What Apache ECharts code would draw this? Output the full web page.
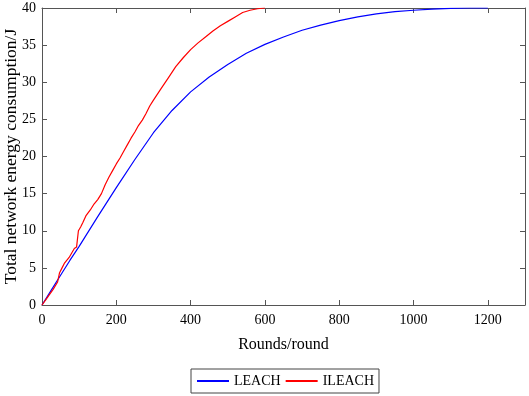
<!DOCTYPE html>
<html>
<head>
<meta charset="utf-8">
<script src="https://cdn.jsdelivr.net/npm/echarts@6/dist/echarts.min.js"></script>
<style>
  html, body { margin: 0; padding: 0; background: #fff; }
  #chart { width: 529px; height: 396px; }
</style>
</head>
<body>
<div id="chart"></div>
<script>
// rounds / energy
const leachRounds = [0, 25, 50, 75, 100, 150, 200, 250, 300, 350, 400, 450, 500, 550, 600, 650, 700, 750, 800, 850, 900, 950, 1000, 1050, 1100, 1150, 1200]
const leachEnergy = [0, 2, 4, 6, 7.9, 11.9, 15.8, 19.6, 23.2, 26.2, 28.7, 30.7, 32.4, 33.9, 35.1, 36.1, 37, 37.7, 38.3, 38.8, 39.2, 39.5, 39.7, 39.85, 39.95, 40, 40]

const ileachRounds = [0, 10, 20, 30, 42, 47, 55, 60, 73, 80, 87, 93, 98, 104, 110, 118, 130, 140, 150, 160, 170, 180, 190, 200, 210, 220, 230, 240, 250, 260, 270, 280, 290, 300, 320, 340, 360, 380, 400, 420, 440, 460, 480, 500, 520, 540, 560, 580, 600]
const ileachEnergy = [0, 0.7, 1.4, 2.1, 3.1, 4.3, 5.1, 5.6, 6.4, 7.0, 7.6, 7.8, 10.0, 10.5, 11.1, 12.0, 12.8, 13.6, 14.2, 15.0, 16.2, 17.2, 18.1, 19.0, 19.8, 20.7, 21.6, 22.5, 23.3, 24.2, 24.9, 25.8, 26.8, 27.6, 29.1, 30.6, 32.1, 33.3, 34.4, 35.3, 36.1, 36.9, 37.6, 38.2, 38.8, 39.4, 39.7, 39.9, 40]

const seriesNames = ['LEACH', 'ILEACH']

const font = 'Liberation Serif, Times New Roman, serif'
const axisColor = '#555'

const zip = (xs, ys) => xs.map((x, i) => [x, ys[i]])

const tick = { inside: true, length: 5, lineStyle: { color: axisColor } }
const line = { onZero: false, lineStyle: { color: axisColor } }

const myChart = echarts.init(document.getElementById('chart'))
myChart.setOption({
  animation: false,
  textStyle: { fontFamily: font },
  grid: { left: 42, right: 4, top: 8, bottom: 91, containLabel: false, outerBoundsMode: 'none' },
  legend: {
    data: seriesNames,
    bottom: 3,
    left: 191,
    itemWidth: 32,
    itemHeight: 12,
    itemGap: 4,
    padding: [5, 5],
    borderColor: '#444',
    borderWidth: 1,
    itemStyle: { color: 'transparent', borderWidth: 0 },
    textStyle: { fontFamily: font, fontSize: 14, color: '#000' },
  },
  xAxis: [
    {
      type: 'value',
      min: 0,
      max: 1300,
      interval: 200,
      name: 'Rounds/round',
      nameLocation: 'middle',
      nameGap: 32,
      nameMoveOverlap: false,
      nameTextStyle: { fontFamily: font, fontSize: 16, color: '#000' },
      axisLine: line,
      axisTick: tick,
      axisLabel: { fontFamily: font, fontSize: 14, color: '#000', margin: 8, showMaxLabel: false, formatter: v => String(v) },
      splitLine: { show: false },
    },
    {
      type: 'value',
      position: 'top',
      min: 0,
      max: 1300,
      interval: 200,
      axisLine: line,
      axisTick: tick,
      axisLabel: { show: false },
      splitLine: { show: false },
    },
  ],
  yAxis: [
    {
      type: 'value',
      min: 0,
      max: 40,
      interval: 5,
      name: 'Total network energy consumption/J',
      nameLocation: 'middle',
      nameRotate: 90,
      nameGap: 22,
      nameMoveOverlap: false,
      nameTextStyle: { fontFamily: font, fontSize: 17.5, color: '#000' },
      axisLine: { show: true, ...line },
      axisTick: { show: true, ...tick },
      axisLabel: { fontFamily: font, fontSize: 14, color: '#000', margin: 6 },
      splitLine: { show: false },
    },
    {
      type: 'value',
      position: 'right',
      min: 0,
      max: 40,
      interval: 5,
      axisLine: { show: true, ...line },
      axisTick: { show: true, ...tick },
      axisLabel: { show: false },
      splitLine: { show: false },
    },
  ],
  series: [
    {
      name: seriesNames[0],
      type: 'line',
      xAxisIndex: 0,
      yAxisIndex: 0,
      showSymbol: false,
      symbol: 'none',
      color: '#0000ff',
      lineStyle: { width: 1.2, color: '#0000ff' },
      data: zip(leachRounds, leachEnergy),
    },
    {
      name: seriesNames[1],
      type: 'line',
      xAxisIndex: 0,
      yAxisIndex: 0,
      showSymbol: false,
      symbol: 'none',
      color: '#ff0000',
      lineStyle: { width: 1.2, color: '#ff0000' },
      data: zip(ileachRounds, ileachEnergy),
    },
  ],
})
</script>
</body>
</html>
